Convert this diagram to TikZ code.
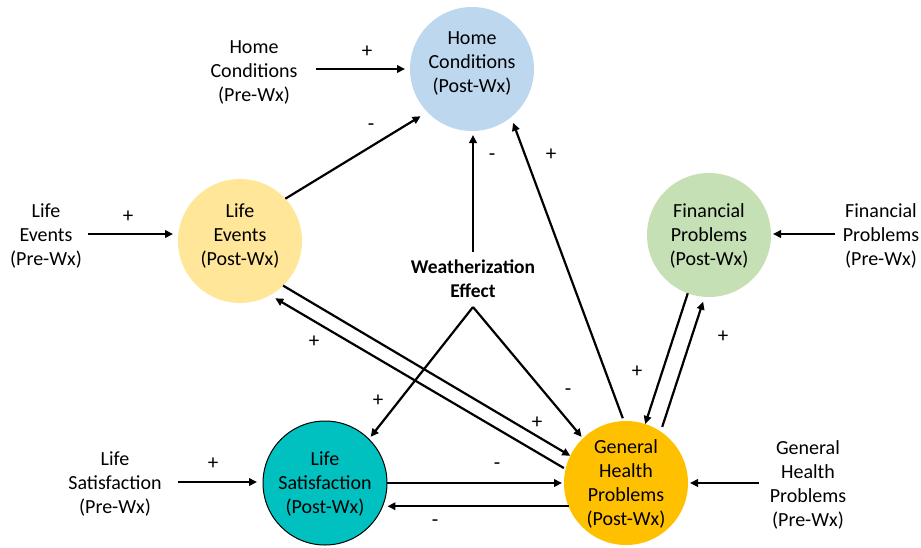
\documentclass[tikz,border=0pt]{standalone}
\usepackage{fontspec}
\setmainfont{Carlito}
\usetikzlibrary{arrows.meta}
\definecolor{homeblue}{HTML}{BDD7EE}
\definecolor{lifeyellow}{HTML}{FFE699}
\definecolor{fingreen}{HTML}{C5E0B4}
\definecolor{lsteal}{HTML}{00C0C0}
\definecolor{ghorange}{HTML}{FFC000}
\begin{document}
\begin{tikzpicture}[x=1pt,y=-1pt,
  circ/.style={circle,minimum size=124pt,inner sep=0pt,outer sep=0pt},
  txt/.style={align=center,inner sep=0pt,font=\fontsize{20}{24}\selectfont},
  sgn/.style={inner sep=0pt,font=\fontsize{21}{24}\selectfont},
  arr/.style={line width=2.2pt,-{Triangle[length=8pt,width=7.5pt]}}]
\useasboundingbox (0,0) rectangle (921,547);
% circles
\node[circ,fill=homeblue] (hp) at (472,69) {};
\node[txt] (hpt) at (472,63) {Home\\Conditions\\(Post-Wx)};
\node[circ,fill=lifeyellow] (le) at (240,241) {};
\node[txt] (let) at (240,236) {Life\\Events\\(Post-Wx)};
\node[circ,fill=fingreen] (fin) at (709,235) {};
\node[txt] (fint) at (709,236) {Financial\\Problems\\(Post-Wx)};
\node[circ,fill=lsteal,draw=black,line width=1pt] (ls) at (325,483) {};
\node[txt] (lst) at (325,484) {Life\\Satisfaction\\(Post-Wx)};
\node[circ,fill=ghorange] (gh) at (626,483) {};
\node[txt] (ght) at (626,484) {General\\Health\\Problems\\(Post-Wx)};
% pre texts
\node[txt] (hpre) at (254,72) {Home\\Conditions\\(Pre-Wx)};
\node[txt] (lepre) at (46,236) {Life\\Events\\(Pre-Wx)};
\node[txt] (finpre) at (881,236) {Financial\\Problems\\(Pre-Wx)};
\node[txt] (lspre) at (115,484) {Life\\Satisfaction\\(Pre-Wx)};
\node[txt] (ghpre) at (808,485) {General\\Health\\Problems\\(Pre-Wx)};
\node[txt,font=\fontsize{19.5}{24}\selectfont\bfseries] (wx) at (473,279) {Weatherization\\Effect};
\coordinate (apex) at (473,307);
% arrows from pre
\draw[arr,shorten <=18pt,shorten >=5pt] (hp.west -| hpre.east) -- (hp.west);
\draw[arr,shorten <=6pt,shorten >=5pt] (lepre.east |- le.west) ++(0,-7) coordinate (lea) (lea) -- (lea -| le.west);
\draw[arr,shorten <=8pt,shorten >=2pt] (finpre.west) ++(0,-2) coordinate (fina) (fina) -- (fina -| fin.east);
\draw[arr,shorten <=16pt,shorten >=6pt] (lspre.east) ++(0,-2) coordinate (lsa) (lsa) -- (lsa -| ls.west);
\draw[arr,shorten <=11pt,shorten >=2pt] (ghpre.west) ++(0,-2) coordinate (gha) (gha) -- (gha -| gh.east);
% to home
\draw[arr,shorten >=8pt] (le.43) -- (hp.224);
\draw[arr,shorten <=8pt,shorten >=4pt] (wx.north) -- (wx.north |- hp.south);
\draw[arr,shorten <=3pt,shorten >=6pt] (gh.92) -- (hp.-51);
% weatherization
\draw[arr,shorten >=3pt] (apex) -- (ls.45);
\draw[arr,shorten >=2pt] (apex) -- (gh.134);
% life events <-> general health
\draw[arr] (le.-46) -- (gh.154);
\draw[arr,shorten <=2pt,shorten >=6pt] (gh.167) -- (le.-61);
% life satisfaction <-> general health
\draw[arr,shorten >=2pt] (ls.east) -- (gh.west);
\draw[arr,shorten >=5pt] (gh.202) -- (ls.-22);
% financial <-> general health
\draw[arr] (fin.250) -- (gh.72);
\draw[arr,shorten <=5pt,shorten >=5pt] (gh.56) -- (fin.266);
% signs
\node[sgn] at (367,52) {+};
\node[sgn] at (128,217) {+};
\node[sgn] at (213,464) {+};
\node[sgn] at (371,127) {-};
\node[sgn] at (492,157) {-};
\node[sgn] at (551,155) {+};
\node[sgn] at (637,372) {+};
\node[sgn] at (723,337) {+};
\node[sgn] at (568,392) {-};
\node[sgn] at (378,401) {+};
\node[sgn] at (537,423) {+};
\node[sgn] at (314,342) {+};
\node[sgn] at (497,466) {-};
\node[sgn] at (435,523) {-};
\end{tikzpicture}
\end{document}
